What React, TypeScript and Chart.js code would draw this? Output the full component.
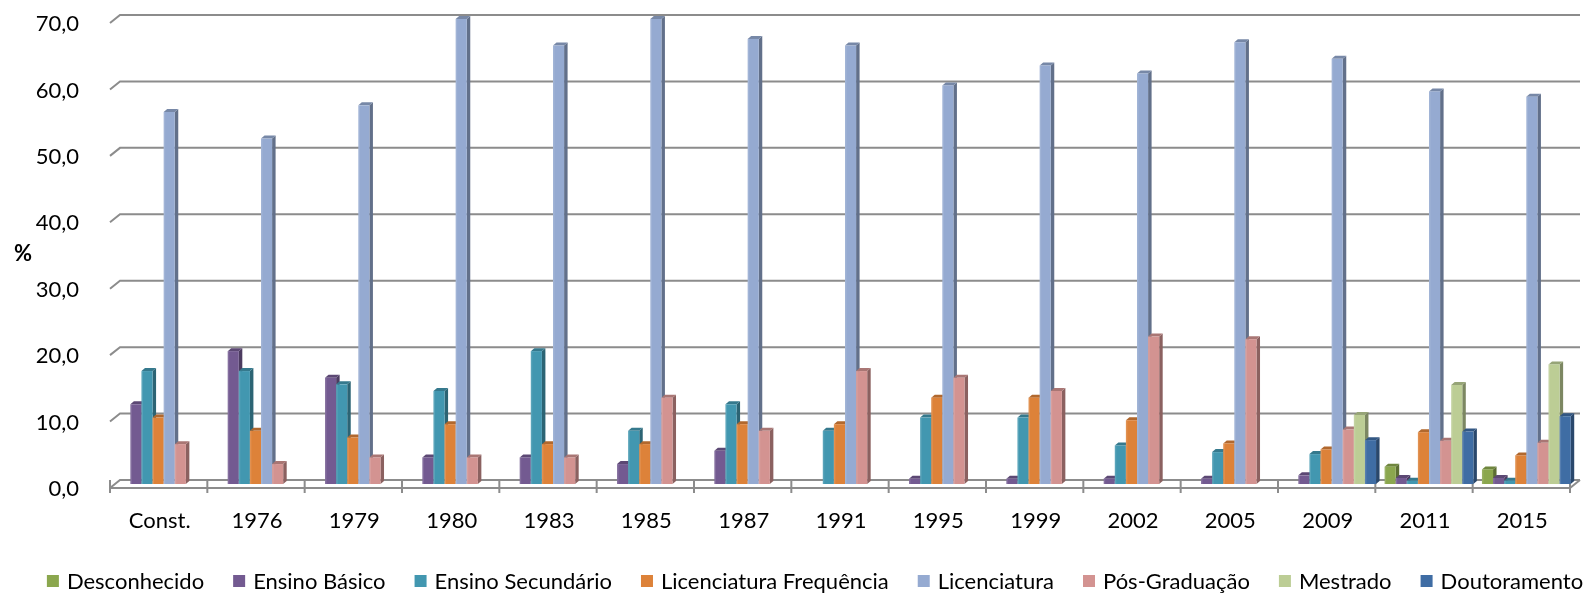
import React, { useEffect, useRef } from 'react';
import { Chart, registerables } from 'chart.js';

Chart.register(...registerables);

// ---------- data ----------
const categories = ['Const.', '1976', '1979', '1980', '1983', '1985', '1987', '1991', '1995', '1999', '2002', '2005', '2009', '2011', '2015'];
const desconhecido = [0, 0, 0, 0, 0, 0, 0, 0, 0, 0, 0, 0, 0, 2.6, 2.2];
const ensinoBasico = [12, 20, 16, 4, 4, 3, 5, 0, 0.8, 0.8, 0.8, 0.8, 1.3, 0.9, 0.9];
const ensinoSecundario = [17, 17, 15, 14, 20, 8, 12, 8, 10, 10, 5.8, 4.8, 4.5, 0.5, 0.5];
const licFrequencia = [10, 8, 7, 9, 6, 6, 9, 9, 13, 13, 9.6, 6.1, 5.2, 7.8, 4.3];
const licenciatura = [56, 52, 57, 70, 66, 70, 67, 66, 60, 63, 61.8, 66.5, 64, 59.1, 58.3];
const posGraduacao = [6, 3, 4, 4, 4, 13, 8, 17, 16, 14, 22.2, 21.8, 8.2, 6.5, 6.2];
const mestrado = [0, 0, 0, 0, 0, 0, 0, 0, 0, 0, 0, 0, 10.4, 14.9, 18.0];
const doutoramento = [0, 0, 0, 0, 0, 0, 0, 0, 0, 0, 0, 0, 6.6, 7.9, 10.2];
const yTicks = [0, 10, 20, 30, 40, 50, 60, 70];

const seriesNames = ['Desconhecido', 'Ensino Básico', 'Ensino Secundário', 'Licenciatura Frequência', 'Licenciatura', 'Pós-Graduação', 'Mestrado', 'Doutoramento'];
const seriesValues = [desconhecido, ensinoBasico, ensinoSecundario, licFrequencia, licenciatura, posGraduacao, mestrado, doutoramento];
const seriesColors = ['#8BA74E', '#735A91', '#4297B0', '#DD8239', '#95AAD1', '#D39391', '#BCCD95', '#3F6DA4'];

const FONT = 'Lato, "Open Sans", sans-serif';

function shade(hex: string, f: number): string {
  const n = parseInt(hex.slice(1), 16);
  const r = Math.round(((n >> 16) & 255) * f);
  const g = Math.round(((n >> 8) & 255) * f);
  const b = Math.round((n & 255) * f);
  return `rgb(${Math.min(255, r)},${Math.min(255, g)},${Math.min(255, b)})`;
}

const frame3d = {
  id: 'frame3d',
  beforeDatasetsDraw(chart: any) {
    const ctx = chart.ctx as CanvasRenderingContext2D;
    const { left, right } = chart.chartArea;
    const ys = chart.scales.y;
    const D = 5;
    const H = 4;
    ctx.save();
    ctx.strokeStyle = '#8c8c8c';
    ctx.lineWidth = 2;
    // back wall gridlines with left-wall stubs
    yTicks.forEach((v) => {
      const y = ys.getPixelForValue(v);
      ctx.beginPath();
      ctx.moveTo(left - D, y + H);
      ctx.lineTo(left + D, y - H);
      ctx.lineTo(right + D, y - H);
      ctx.stroke();
    });
    // floor front edge
    const y0 = ys.getPixelForValue(0);
    ctx.beginPath();
    ctx.moveTo(left - D, y0 + H);
    ctx.lineTo(right - D, y0 + H);
    ctx.lineTo(right + D, y0 - H);
    ctx.stroke();
    // category tick marks
    const n = categories.length;
    const cw = (right - left) / n;
    ctx.beginPath();
    for (let k = 0; k <= n; k++) {
      const x = left - D + k * cw;
      ctx.moveTo(x, y0 - H);
      ctx.lineTo(x, y0 + 9);
    }
    ctx.stroke();

    // 3D bars
    const dx = 3.5;
    const dy = 3;
    const nds = chart.data.datasets.length;
    for (let j = 0; j < n; j++) {
      for (let i = 0; i < nds; i++) {
        const val = chart.data.datasets[i].data[j];
        if (!val) continue;
        const el = chart.getDatasetMeta(i).data[j];
        const p = el.getProps(['x', 'y', 'base', 'width'], true);
        const x0 = p.x - p.width / 2;
        const x1 = p.x + p.width / 2;
        const yt = p.y;
        const yb = p.base;
        const c = seriesColors[i];
        ctx.fillStyle = shade(c, 0.66);
        ctx.beginPath();
        ctx.moveTo(x1, yb);
        ctx.lineTo(x1, yt);
        ctx.lineTo(x1 + dx, yt - dy);
        ctx.lineTo(x1 + dx, yb - dy);
        ctx.closePath();
        ctx.fill();
        ctx.fillStyle = shade(c, 0.8);
        ctx.beginPath();
        ctx.moveTo(x0, yt);
        ctx.lineTo(x1, yt);
        ctx.lineTo(x1 + dx, yt - dy);
        ctx.lineTo(x0 + dx, yt - dy);
        ctx.closePath();
        ctx.fill();
        ctx.fillStyle = c;
        ctx.fillRect(x0, yt, x1 - x0, yb - yt);
        ctx.fillStyle = 'rgba(255,255,255,0.12)';
        ctx.fillRect(x0, yt, 1.5, yb - yt);
      }
    }
    ctx.restore();
    return false;
  },
  afterDraw(chart: any) {
    const ctx = chart.ctx as CanvasRenderingContext2D;
    ctx.save();
    ctx.fillStyle = '#000';
    ctx.font = `bold 22px ${FONT}`;
    ctx.textAlign = 'center';
    ctx.textBaseline = 'middle';
    ctx.fillText('%', 23, 254);
    ctx.font = `22px ${FONT}`;
    ctx.textAlign = 'left';
    const box = 12;
    const gapBox = 8;
    const gapItem = 29;
    const widths = seriesNames.map((s) => ctx.measureText(s).width);
    const total = widths.reduce((a, w) => a + box + gapBox + w, 0) + gapItem * (seriesNames.length - 1);
    let x = 815 - total / 2;
    const yc = 581;
    seriesNames.forEach((s, i) => {
      ctx.fillStyle = seriesColors[i];
      ctx.fillRect(x, yc - box / 2, box, box);
      ctx.fillStyle = '#000';
      ctx.fillText(s, x + box + gapBox, yc + 1);
      x += box + gapBox + widths[i] + gapItem;
    });
    ctx.restore();
  },
};

export default function App() {
  const ref = useRef<HTMLCanvasElement | null>(null);
  useEffect(() => {
    document.body.style.margin = '0';
    const canvas = ref.current;
    if (!canvas) return;
    const chart = new Chart(canvas, {
      type: 'bar',
      data: {
        labels: categories,
        datasets: seriesNames.map((name, i) => ({
          label: name,
          data: seriesValues[i],
          backgroundColor: seriesColors[i],
          categoryPercentage: 0.912,
          barPercentage: 1,
        })),
      },
      options: {
        animation: false,
        responsive: false,
        events: [],
        layout: { padding: { top: 19, right: 20, left: 0, bottom: 0 } },
        plugins: { legend: { display: false }, tooltip: { enabled: false } },
        scales: {
          x: {
            grid: { display: false },
            border: { display: false },
            ticks: {
              font: { family: FONT, size: 22 },
              color: '#000',
              padding: 16,
              labelOffset: -4,
              maxRotation: 0,
              autoSkip: false,
            },
            afterFit: (s: any) => {
              s.height = 109;
              s.paddingLeft = 0;
              s.paddingRight = 0;
              s.paddingTop = 0;
              s.paddingBottom = 0;
            },
          },
          y: {
            min: 0,
            max: 70,
            grid: { display: false },
            border: { display: false },
            ticks: {
              stepSize: 10,
              font: { family: FONT, size: 22 },
              color: '#000',
              padding: 28,
              labelOffset: 5,
              callback: (v: any) => Number(v).toFixed(1).replace('.', ','),
            },
            afterFit: (s: any) => {
              s.width = 115;
              s.paddingTop = 0;
              s.paddingBottom = 0;
              s.paddingLeft = 0;
              s.paddingRight = 0;
            },
          },
        },
      },
      plugins: [frame3d],
    } as any);
    return () => chart.destroy();
  }, []);
  return (
    <div style={{ width: 1595, height: 593 }}>
      <canvas ref={ref} width={1595} height={593} style={{ display: 'block' }} />
    </div>
  );
}
